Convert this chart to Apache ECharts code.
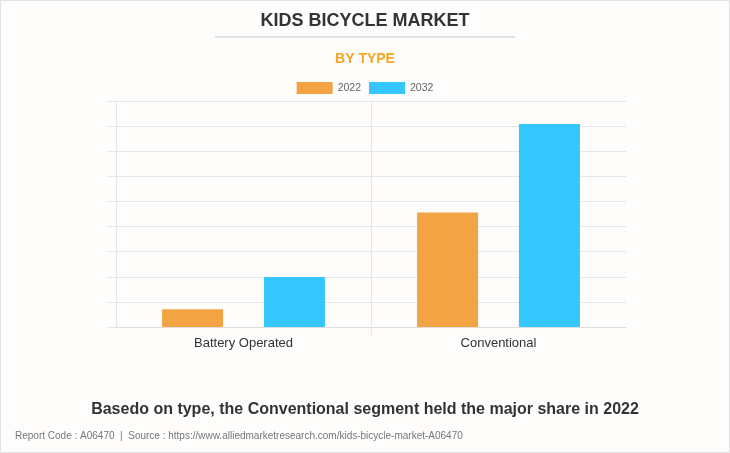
<!DOCTYPE html>
<html><head><meta charset="utf-8">
<script src="https://cdn.jsdelivr.net/npm/echarts@6/dist/echarts.min.js"></script>
<style>html,body{margin:0;padding:0;background:#fff}#c{width:730px;height:453px}</style>
</head><body><div id="c"></div>
<script>
const categories = ['Battery Operated', 'Conventional'];
const seriesNames = ['2022', '2032'];
const values2022 = [0.71, 4.56];
const values2032 = [1.99, 8.08];
const colors = ['#f2a444', '#33c6ff'];

const chart = echarts.init(document.getElementById('c'));
chart.setOption({
  backgroundColor: '#fefdfc',
  animation: false,
  title: [
    {text: 'KIDS BICYCLE MARKET', left: 'center', top: 7,
     textStyle: {fontFamily: 'Arial, Liberation Sans', fontSize: 18, fontWeight: 'bold', color: '#333'}},
    {text: 'BY TYPE', left: 'center', top: 47,
     textStyle: {fontFamily: 'Arial, Liberation Sans', fontSize: 14, fontWeight: 'bold', color: '#f5a623'}},
    {text: 'Basedo on type, the Conventional segment held the major share in 2022', left: 'center', top: 397,
     textStyle: {fontFamily: 'Arial, Liberation Sans', fontSize: 16, fontWeight: 'bold', color: '#333'}},
    {text: 'Report Code : A06470  |  Source : https://www.alliedmarketresearch.com/kids-bicycle-market-A06470', left: 10, top: 426,
     textStyle: {fontFamily: 'Arial, Liberation Sans', fontSize: 10, fontWeight: 'normal', color: '#777'}}
  ],
  graphic: [
    {type: 'rect', shape: {x: 0.5, y: 0.5, width: 729, height: 452}, style: {fill: 'none', stroke: '#e2e2e2', lineWidth: 1}},
    {type: 'line', shape: {x1: 215, y1: 37, x2: 515, y2: 37}, style: {stroke: '#c8c8c8', lineWidth: 1}}
  ],
  legend: {
    top: 77, left: 'center', itemWidth: 36, itemHeight: 12, itemGap: 8,
    icon: 'rect',
    textStyle: {fontFamily: 'Arial, Liberation Sans', fontSize: 10.5, color: '#666', fontWeight: 'normal'},
    data: seriesNames
  },
  grid: {left: 116, right: 104, top: 101, bottom: 126},
  xAxis: [
    {
      type: 'category', data: categories,
      axisLine: {lineStyle: {color: '#ddd'}},
      axisTick: {show: false},
      splitLine: {show: false},
      axisLabel: {fontFamily: 'Arial, Liberation Sans', fontSize: 13, color: '#333', margin: 10}
    },
    {
      type: 'value', min: 0, max: 2, position: 'bottom',
      axisLine: {show: false},
      axisLabel: {show: false},
      axisTick: {show: true, length: 8, customValues: [1], lineStyle: {color: '#e6e6e6'}},
      splitLine: {show: true, showMinLine: true, showMaxLine: true, lineStyle: {color: '#e6e6e6'}}
    }
  ],
  yAxis: {
    type: 'value', min: 0, max: 9, interval: 1,
    axisLine: {show: true, lineStyle: {color: '#e6e6e6'}},
    axisTick: {show: true, length: 9, lineStyle: {color: '#e6e6e6'}},
    axisLabel: {show: false},
    splitLine: {lineStyle: {color: '#e6e6e6'}}
  },
  series: [
    {name: seriesNames[0], type: 'bar', data: values2022, barWidth: 61, barGap: '67%', itemStyle: {color: colors[0]}},
    {name: seriesNames[1], type: 'bar', data: values2032, barWidth: 61, barGap: '67%', itemStyle: {color: colors[1]}}
  ]
});
</script></body></html>
